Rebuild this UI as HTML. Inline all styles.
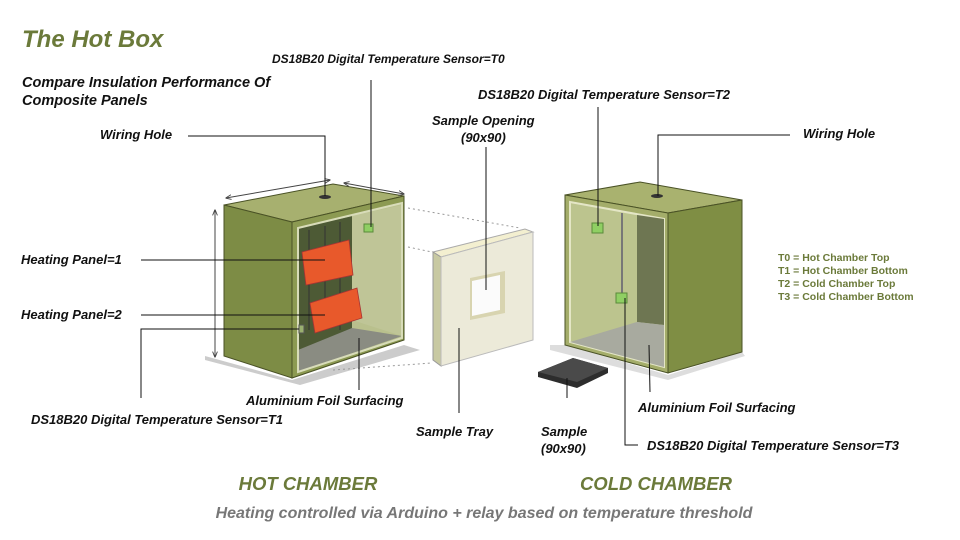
<!DOCTYPE html>
<html><head><meta charset="utf-8"><style>
html,body{margin:0;padding:0;background:#fff}
svg{display:block}
text{font-family:"Liberation Sans",sans-serif;font-weight:bold;font-style:italic}
.l{font-size:13px;fill:#111}
.g{fill:#6b7a3a}
</style></head><body>
<svg width="960" height="540" viewBox="0 0 960 540" xmlns="http://www.w3.org/2000/svg">
<defs>
<marker id="ar" viewBox="0 0 10 10" refX="9" refY="5" markerWidth="6" markerHeight="6" orient="auto-start-reverse"><path d="M0,1 L10,5 L0,9" fill="none" stroke="#444" stroke-width="1.5"/></marker>
</defs>
<text x="22" y="47" font-size="24" class="g">The Hot Box</text>
<text x="22" y="87" class="l" style="font-size:14.5px">Compare Insulation Performance Of</text>
<text x="22" y="105" class="l" style="font-size:14.5px">Composite Panels</text>

<polygon points="205,356 292,380 404,345 420,350 300,385 205,360" fill="#ccc"/>
<polygon points="550,345 565,345 668,375 742,352 745,356 668,380 550,350" fill="#ddd"/>

<polygon points="224,205 333,184 404,196 292,222" fill="#a7b06f" stroke="#4a5226" stroke-width="1"/>
<polygon points="224,205 292,222 292,378 224,356" fill="#7d8c45" stroke="#4a5226" stroke-width="1"/>
<polygon points="292,222 404,196 404,340 292,378" fill="#8c9a52" stroke="#4a5226" stroke-width="1"/>
<polygon points="298,228 402,203 402,338 298,372" fill="#b9c08d"/>
<polygon points="298,228 352,216 352,335 298,350" fill="#4d5a35"/>
<polygon points="352,216 402,205 402,336 352,320" fill="#bfc597"/>
<polygon points="298,350 352,328 402,336 298,372" fill="#8a8c82"/>
<polygon points="298,228 402,203 402,338 298,372" fill="none" stroke="#d8dcb9" stroke-width="2"/>
<line x1="309" y1="230" x2="309" y2="330" stroke="#333" stroke-width="1"/>
<line x1="325" y1="226" x2="325" y2="330" stroke="#333" stroke-width="1"/>
<line x1="340" y1="222" x2="340" y2="330" stroke="#333" stroke-width="1"/>
<ellipse cx="325" cy="197" rx="6" ry="2" fill="#333"/>
<polygon points="302,252 349,240 353,275 306,285" fill="#e8592b" stroke="#a33" stroke-width="0.8"/>
<polygon points="310,303 357,288 362,318 315,333" fill="#e8592b" stroke="#a33" stroke-width="0.8"/>
<rect x="364" y="224" width="9" height="8" fill="#8fcf63" stroke="#5a8a3a"/>
<rect x="299" y="325" width="5" height="8" fill="#9ab070" stroke="#555"/>
<line x1="226" y1="198" x2="330" y2="180" stroke="#444" marker-start="url(#ar)" marker-end="url(#ar)"/>
<line x1="344" y1="183" x2="404" y2="194" stroke="#444" marker-start="url(#ar)" marker-end="url(#ar)"/>
<line x1="215" y1="210" x2="215" y2="357" stroke="#444" marker-start="url(#ar)" marker-end="url(#ar)"/>
<g stroke="#999" stroke-dasharray="2,3" fill="none">
<line x1="408" y1="208" x2="520" y2="228"/>
<line x1="408" y1="247" x2="432" y2="252"/>
<line x1="333" y1="370" x2="432" y2="363"/>
</g>

<polygon points="433,252 525,229 533,232 441,257" fill="#f3efd0" stroke="#aaa"/>
<polygon points="433,252 441,257 441,366 433,360" fill="#c8c9a2" stroke="#999"/>
<polygon points="441,257 533,232 533,340 441,366" fill="#ecead9" stroke="#bbb"/>
<polygon points="470,278 505,271 505,313 470,320" fill="#d8d4b0"/>
<polygon points="472,281 500,275 500,310 472,316" fill="#fbfbfb"/>

<polygon points="538,372 573,358 608,368 608,373 577,388 538,377" fill="#2d2d2d"/>
<polygon points="538,372 573,358 608,368 577,382" fill="#4a4a4a"/>

<polygon points="565,195 640,182 742,200 668,213" fill="#a9b26f" stroke="#4a5226"/>
<polygon points="668,213 742,200 742,352 668,373" fill="#7f8e44" stroke="#4a5226"/>
<polygon points="565,195 668,213 668,373 565,345" fill="#a4ad6a" stroke="#4a5226"/>
<polygon points="570,202 664,219 664,367 570,342" fill="#bcc48e" stroke="#e4e6c6" stroke-width="2"/>
<polygon points="637,215 664,219 664,325 637,322" fill="#6e7652"/>
<polygon points="570,342 637,322 664,325 664,367" fill="#a8aa9f"/>
<line x1="622" y1="213" x2="622" y2="298" stroke="#777" stroke-width="2"/>
<ellipse cx="657" cy="196" rx="6" ry="2" fill="#333"/>
<rect x="592" y="223" width="11" height="10" fill="#8fcf63" stroke="#5a8a3a"/>
<rect x="616" y="293" width="11" height="10" fill="#8fcf63" stroke="#5a8a3a"/>

<g stroke="#111" stroke-width="1" fill="none">
<polyline points="188,136 325,136 325,196"/>
<line x1="371" y1="80" x2="371" y2="227"/>
<line x1="141" y1="260" x2="325" y2="260"/>
<line x1="141" y1="315" x2="325" y2="315"/>
<polyline points="141,398 141,329 299,329"/>
<line x1="359" y1="338" x2="359" y2="390"/>
<line x1="486" y1="147" x2="486" y2="290"/>
<line x1="459" y1="328" x2="459" y2="413"/>
<line x1="598" y1="107" x2="598" y2="226"/>
<polyline points="790,135 658,135 658,196"/>
<polyline points="625,298 625,445 638,445"/>
<line x1="649" y1="345" x2="650" y2="392"/>
<line x1="567" y1="378" x2="567" y2="398"/>
</g>

<text x="272" y="63" class="l" style="font-size:12px">DS18B20 Digital Temperature Sensor=T0</text>
<text x="100" y="139" class="l">Wiring Hole</text>
<text x="432" y="125" class="l">Sample Opening</text>
<text x="461" y="142" class="l">(90x90)</text>
<text x="478" y="99" class="l">DS18B20 Digital Temperature Sensor=T2</text>
<text x="803" y="138" class="l">Wiring Hole</text>
<text x="21" y="264" class="l">Heating Panel=1</text>
<text x="21" y="319" class="l">Heating Panel=2</text>
<text x="246" y="405" class="l">Aluminium Foil Surfacing</text>
<text x="31" y="424" class="l">DS18B20 Digital Temperature Sensor=T1</text>
<text x="416" y="436" class="l">Sample Tray</text>
<text x="541" y="436" class="l">Sample</text>
<text x="541" y="453" class="l">(90x90)</text>
<text x="638" y="412" class="l">Aluminium Foil Surfacing</text>
<text x="647" y="450" class="l">DS18B20 Digital Temperature Sensor=T3</text>

<text x="778" y="261" font-size="10.5" class="g" style="font-style:normal">T0 = Hot Chamber Top</text>
<text x="778" y="274" font-size="10.5" class="g" style="font-style:normal">T1 = Hot Chamber Bottom</text>
<text x="778" y="287" font-size="10.5" class="g" style="font-style:normal">T2 = Cold Chamber Top</text>
<text x="778" y="300" font-size="10.5" class="g" style="font-style:normal">T3 = Cold Chamber Bottom</text>

<text x="308" y="490" font-size="18.5" class="g" text-anchor="middle">HOT CHAMBER</text>
<text x="656" y="490" font-size="18.5" class="g" text-anchor="middle">COLD CHAMBER</text>
<text x="484" y="518" font-size="16" fill="#777" text-anchor="middle">Heating controlled via Arduino + relay based on temperature threshold</text>
</svg>
</body></html>
